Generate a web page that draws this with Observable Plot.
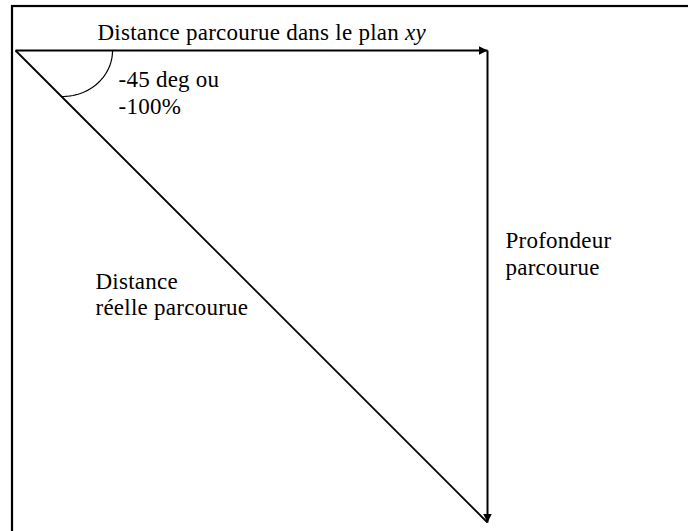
<!DOCTYPE html>
<html><head><meta charset="utf-8">
<script src="https://cdn.jsdelivr.net/npm/d3@7"></script>
<script src="https://cdn.jsdelivr.net/npm/@observablehq/plot@0.6"></script>
<style>html,body{margin:0;padding:0;background:#fff} #chart svg text{font-family:"Liberation Serif","Tinos","Times New Roman","DejaVu Serif",serif;letter-spacing:0.25px}</style>
</head><body><div id="chart"></div>
<script>
// Diagram in abstract units: horizontal distance = 100, depth = 100 (slope -100%, -45 deg)
const horizontalDistance = [{x1: 0, y1: 0, x2: 100, y2: 0}];
const depthTravelled = [{x1: 100, y1: 0, x2: 100, y2: 100}];
const realDistance = [{x1: 0, y1: 0, x2: 100, y2: 100}];
// angle arc: quarter ellipse (center, radii)
const arcCenter = {x: 9.96, y: 0};
const arcRadii = {rx: 10.6, ry: 9.75};
const arcAngles = d3.range(0, 91, 3);
// labels
const labelTexts = ["Distance parcourue dans le plan xy", "-45 deg ou\n-100%", "Profondeur\nparcourue", "Distance\nréelle parcourue"];
const labelX = [17.37, 21.82, 103.8, 16.95];
const labelY = [-2.12, 13.35, 47.46, 56.14];
const frame = [{x1: -0.636, y1: -9.32, x2: 150, y2: 115}];

const labels = labelTexts.map((t, i) => ({text: t, x: labelX[i], y: labelY[i]}));
const arcPts = arcAngles.map(a => ({
  x: arcCenter.x + arcRadii.rx * Math.cos(a * Math.PI / 180),
  y: arcCenter.y + arcRadii.ry * Math.sin(a * Math.PI / 180)
}));

function filledArrow(color, context) {
  const m = d3.create("svg:marker")
    .attr("viewBox", "-9 -4.5 9 9")
    .attr("markerWidth", 9)
    .attr("markerHeight", 9)
    .attr("markerUnits", "userSpaceOnUse")
    .attr("orient", "auto")
    .attr("refX", 0).attr("refY", 0)
    .attr("fill", color)
    .attr("stroke", "none");
  m.append("path").attr("d", "M-9,-4.5L0,0L-9,4.5Z");
  return m.node();
}

const chart = Plot.plot({
  width: 688,
  height: 531,
  margin: 0,
  x: {domain: [-15 / 4.72, 673 / 4.72], range: [0, 688], axis: null},
  y: {domain: [-50 / 4.72, 481 / 4.72], range: [0, 531], axis: null},
  style: {background: "white", overflow: "hidden"},
  marks: [
    Plot.rect(frame, {x1: "x1", y1: "y1", x2: "x2", y2: "y2", fill: "none", stroke: "black", strokeWidth: 2.2}),
    Plot.link(realDistance, {x1: "x1", y1: "y1", x2: "x2", y2: "y2", stroke: "black", strokeWidth: 1.8}),
    Plot.link(horizontalDistance, {x1: "x1", y1: "y1", x2: "x2", y2: "y2", stroke: "black", strokeWidth: 2, markerEnd: filledArrow}),
    Plot.link(depthTravelled, {x1: "x1", y1: "y1", x2: "x2", y2: "y2", stroke: "black", strokeWidth: 2, markerEnd: filledArrow}),
    Plot.line(arcPts, {x: "x", y: "y", stroke: "black", strokeWidth: 1.2, curve: "linear"}),
    Plot.text(labels, {x: "x", y: "y", text: "text", textAnchor: "start", lineAnchor: "bottom", lineHeight: 1.17, fontSize: 23, fontFamily: "Liberation Serif", fill: "black"})
  ]
});

d3.select(chart).selectAll("text").each(function() {
  if (this.textContent === labelTexts[0]) {
    const s = d3.select(this);
    s.text(null);
    s.append("tspan").text("Distance parcourue dans le plan ");
    s.append("tspan").attr("font-style", "italic").text("xy");
  }
});

document.getElementById("chart").appendChild(chart);
</script>
</body></html>
